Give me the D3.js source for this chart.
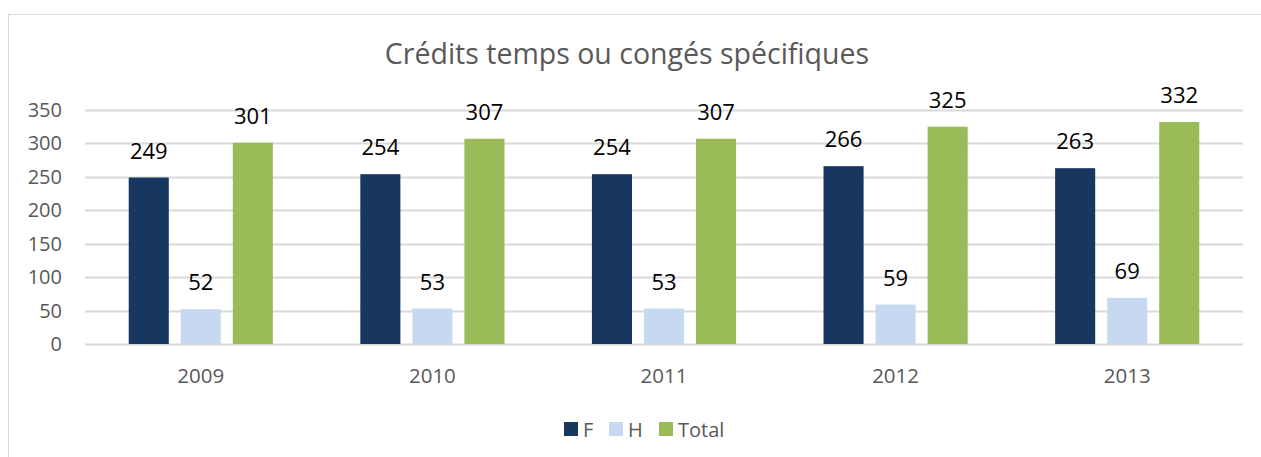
<!DOCTYPE html>
<html>
<head>
<meta charset="utf-8">
<script src="https://cdn.jsdelivr.net/npm/d3@7"></script>
<style>
  body { margin: 0; background: #fff; }
  text { font-family: "Open Sans", "Liberation Sans", sans-serif; }
</style>
</head>
<body>
<div id="chart"></div>
<script>
// data
const years = ["2009", "2010", "2011", "2012", "2013"];
const seriesNames = ["F", "H", "Total"];
const valuesF = [249, 254, 254, 266, 263];
const valuesH = [52, 53, 53, 59, 69];
const valuesTotal = [301, 307, 307, 325, 332];
const yTicks = [0, 50, 100, 150, 200, 250, 300, 350];
const colors = ["#17375e", "#c6d9f1", "#9bbb59"];

const width = 1261, height = 457;
const margin = { top: 110, right: 18, bottom: 113, left: 85 };

const svg = d3.select("#chart").append("svg")
  .attr("width", width)
  .attr("height", height);

// chart frame
svg.append("rect")
  .attr("x", 8.5).attr("y", 14.5)
  .attr("width", 1262).attr("height", 460)
  .attr("fill", "none")
  .attr("stroke", "#d9d9d9");

svg.append("text")
  .attr("x", 627).attr("y", 64)
  .attr("text-anchor", "middle")
  .attr("font-size", 28.5)
  .attr("fill", "#595959")
  .text("Crédits temps ou congés spécifiques");

const x = d3.scaleBand()
  .domain(years)
  .range([margin.left, width - margin.right]);

const y = d3.scaleLinear()
  .domain([0, 350])
  .range([height - margin.bottom, margin.top]);

// bars are 40px wide with ~12px gaps inside a ~232px band
const xSub = d3.scaleBand()
  .domain(seriesNames)
  .range([0, x.bandwidth()])
  .paddingInner(0.23)
  .paddingOuter(0.84);

// grid lines
svg.append("g")
  .selectAll("line")
  .data(yTicks)
  .join("line")
  .attr("x1", margin.left)
  .attr("x2", width - margin.right)
  .attr("y1", d => Math.round(y(d)) + 0.5)
  .attr("y2", d => Math.round(y(d)) + 0.5)
  .attr("stroke", "#d9d9d9")
  .attr("stroke-width", 2);

// y axis labels
svg.append("g")
  .selectAll("text")
  .data(yTicks)
  .join("text")
  .attr("x", 62)
  .attr("y", d => y(d) + 7)
  .attr("text-anchor", "end")
  .attr("font-size", 20)
  .attr("fill", "#595959")
  .text(d => d);

// x axis labels
svg.append("g")
  .selectAll("text")
  .data(years)
  .join("text")
  .attr("x", d => x(d) + x.bandwidth() / 2)
  .attr("y", 383)
  .attr("text-anchor", "middle")
  .attr("font-size", 20.5)
  .attr("fill", "#595959")
  .text(d => d);

const allSeries = [valuesF, valuesH, valuesTotal];
const rows = [];
years.forEach((yr, i) => {
  seriesNames.forEach((s, j) => {
    rows.push({ year: yr, series: s, value: allSeries[j][i], color: colors[j] });
  });
});

const bars = svg.append("g")
  .selectAll("g")
  .data(rows)
  .join("g");

bars.append("rect")
  .attr("x", d => x(d.year) + xSub(d.series))
  .attr("y", d => y(d.value))
  .attr("width", xSub.bandwidth())
  .attr("height", d => y(0) - y(d.value))
  .attr("fill", d => d.color);

bars.append("text")
  .attr("x", d => x(d.year) + xSub(d.series) + xSub.bandwidth() / 2)
  .attr("y", d => y(d.value) - 19)
  .attr("text-anchor", "middle")
  .attr("font-size", 22)
  .attr("fill", "#000")
  .text(d => d.value);

// legend
const legendX = [564, 609, 659];
const legend = svg.append("g")
  .selectAll("g")
  .data(seriesNames)
  .join("g")
  .attr("transform", (d, i) => `translate(${legendX[i]},422)`);

legend.append("rect")
  .attr("width", 14).attr("height", 14)
  .attr("fill", (d, i) => colors[i]);

legend.append("text")
  .attr("x", 19).attr("y", 14.5)
  .attr("font-size", 20)
  .attr("fill", "#595959")
  .text(d => d);
</script>
</body>
</html>
